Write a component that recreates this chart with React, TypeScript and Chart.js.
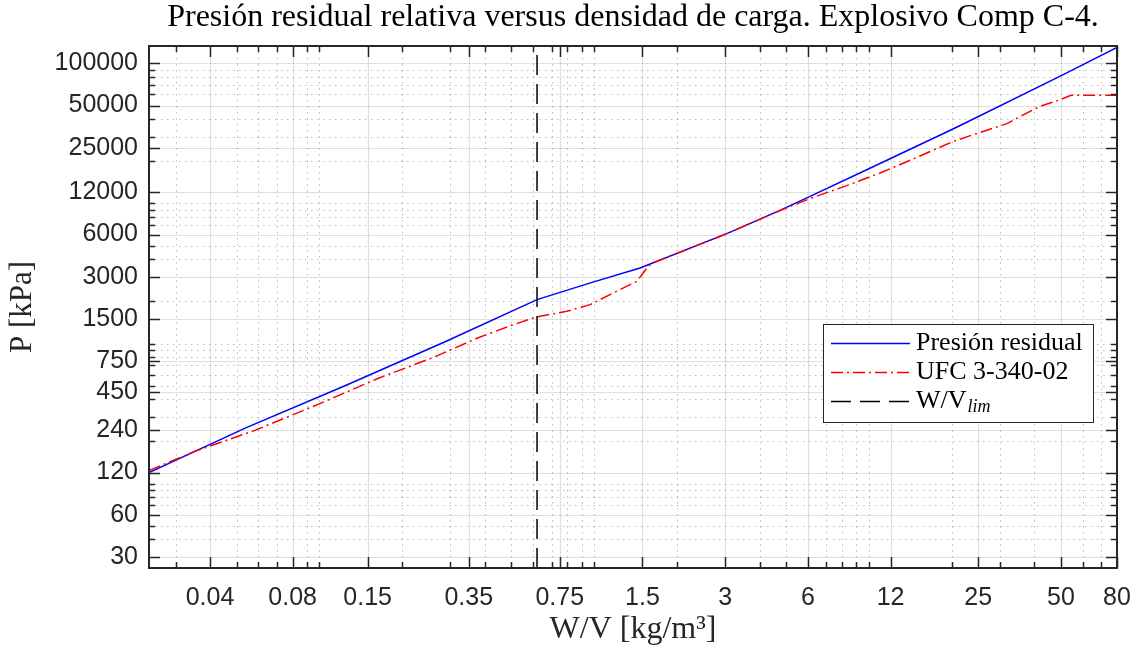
import React, { useEffect, useRef } from 'react';
import { Chart, registerables } from 'chart.js';

Chart.register(...registerables);

// ---- axis ranges & ticks ----
const xRange = [0.024, 80];
const yRange = [25, 133000];
const xTickValues = [0.04, 0.08, 0.15, 0.35, 0.75, 1.5, 3, 6, 12, 25, 50, 80];
const xTickLabels = ['0.04', '0.08', '0.15', '0.35', '0.75', '1.5', '3', '6', '12', '25', '50', '80'];
const yTickValues = [30, 60, 120, 240, 450, 750, 1500, 3000, 6000, 12000, 25000, 50000, 100000];
const yTickLabels = ['30', '60', '120', '240', '450', '750', '1500', '3000', '6000', '12000', '25000', '50000', '100000'];
const minorMultipliers = [1, 2, 3, 4, 5, 6, 7, 8, 9];
const xDecades = [0.01, 0.1, 1, 10];
const yDecades = [10, 100, 1000, 10000, 100000];

// ---- series ----
const presionX = [0.024, 0.054, 0.124, 0.287, 0.62, 0.97, 1.47, 3.04, 4.75, 6.11, 10, 18.2, 21.5, 51, 80];
const presionY = [120, 250, 500, 1030, 2060, 2710, 3460, 6090, 8930, 11240, 17700, 30800, 36000, 83000, 130000];

const ufcX = [0.024, 0.0352, 0.0583, 0.099, 0.164, 0.257, 0.379, 0.501, 0.618, 0.796, 0.967, 1.175, 1.43, 1.51, 1.57, 1.64, 3.04, 4.75, 6.28, 8.31, 11.0, 14.5, 20.3, 24.0, 31.8, 38.6, 42.0, 49.7, 54.4, 80];
const ufcY = [124, 170, 240, 368, 565, 789, 1100, 1350, 1549, 1698, 1895, 2296, 2780, 3190, 3555, 3770, 6090, 8900, 11055, 13400, 16510, 20770, 27750, 30980, 37120, 45420, 49320, 55060, 59110, 59110];

const wvLim = 0.62;

const seriesNames = ['Presión residual', 'UFC 3-340-02', 'W/V'];
const limSubscript = 'lim';
const chartTitle = 'Presión residual relativa versus densidad de carga. Explosivo Comp C-4.';
const xTitle = 'W/V [kg/m³]';
const yTitle = 'P [kPa]';

const AXIS = '#262626';
const BLUE = '#0000ff';
const RED = '#ff0000';
const BLACK = '#000000';
const RED_DASH = [12, 4, 2, 4];
const BLACK_DASH = [20, 9];

function isMajor(v: number, majors: number[]) {
  return majors.some((m) => Math.abs(Math.log10(v / m)) < 1e-6);
}

function minorValues(decades: number[], range: number[]) {
  const out: number[] = [];
  decades.forEach((d) =>
    minorMultipliers.forEach((m) => {
      const v = d * m;
      if (v > range[0] && v < range[1]) out.push(v);
    })
  );
  return out;
}

const matlabAxesPlugin = {
  id: 'matlabAxes',
  beforeDatasetsDraw(chart: any) {
    const { ctx, chartArea } = chart;
    const { left, right, top, bottom } = chartArea;
    const xs = chart.scales.x;
    const ys = chart.scales.y;
    ctx.save();
    ctx.lineWidth = 1;
    // minor grid (dotted)
    ctx.strokeStyle = 'rgba(38,38,38,0.3)';
    ctx.setLineDash([1.5, 4.5]);
    minorValues(xDecades, xRange).forEach((v) => {
      if (isMajor(v, xTickValues)) return;
      const px = Math.round(xs.getPixelForValue(v)) + 0.5;
      ctx.beginPath(); ctx.moveTo(px, top); ctx.lineTo(px, bottom); ctx.stroke();
    });
    minorValues(yDecades, yRange).forEach((v) => {
      if (isMajor(v, yTickValues)) return;
      const py = Math.round(ys.getPixelForValue(v)) + 0.5;
      ctx.beginPath(); ctx.moveTo(left, py); ctx.lineTo(right, py); ctx.stroke();
    });
    // major grid (solid)
    ctx.setLineDash([]);
    ctx.strokeStyle = 'rgba(38,38,38,0.15)';
    ctx.lineWidth = 1.2;
    xTickValues.forEach((v) => {
      const px = Math.round(xs.getPixelForValue(v)) + 0.5;
      ctx.beginPath(); ctx.moveTo(px, top); ctx.lineTo(px, bottom); ctx.stroke();
    });
    yTickValues.forEach((v) => {
      const py = Math.round(ys.getPixelForValue(v)) + 0.5;
      ctx.beginPath(); ctx.moveTo(left, py); ctx.lineTo(right, py); ctx.stroke();
    });
    ctx.restore();
  },
  afterDatasetsDraw(chart: any) {
    const { ctx, chartArea } = chart;
    const { left, right, top, bottom } = chartArea;
    const xs = chart.scales.x;
    const ys = chart.scales.y;
    ctx.save();
    ctx.strokeStyle = AXIS;
    ctx.setLineDash([]);
    ctx.lineWidth = 1.5;
    const majorLen = 11;
    const minorLen = 6;
    const xt = (v: number, len: number) => {
      const px = Math.round(xs.getPixelForValue(v)) + 0.5;
      ctx.beginPath();
      ctx.moveTo(px, bottom); ctx.lineTo(px, bottom - len);
      ctx.moveTo(px, top); ctx.lineTo(px, top + len);
      ctx.stroke();
    };
    const yt = (v: number, len: number) => {
      const py = Math.round(ys.getPixelForValue(v)) + 0.5;
      ctx.beginPath();
      ctx.moveTo(left, py); ctx.lineTo(left + len, py);
      ctx.moveTo(right, py); ctx.lineTo(right - len, py);
      ctx.stroke();
    };
    minorValues(xDecades, xRange).forEach((v) => { if (!isMajor(v, xTickValues)) xt(v, minorLen); });
    xTickValues.forEach((v) => xt(v, majorLen));
    minorValues(yDecades, yRange).forEach((v) => { if (!isMajor(v, yTickValues)) yt(v, minorLen); });
    yTickValues.forEach((v) => yt(v, majorLen));
    // frame
    ctx.lineWidth = 2;
    ctx.strokeRect(left, top, right - left, bottom - top);
    ctx.restore();
  },
  afterDraw(chart: any) {
    const { ctx, chartArea } = chart;
    const bx = chartArea.right - 294;
    const by = chartArea.top + 278;
    const bw = 270;
    const bh = 98;
    ctx.save();
    ctx.fillStyle = '#ffffff';
    ctx.fillRect(bx, by, bw, bh);
    ctx.strokeStyle = AXIS;
    ctx.lineWidth = 1;
    ctx.strokeRect(bx + 0.5, by + 0.5, bw, bh);
    const rows = [by + 19, by + 48, by + 77];
    const colors = [BLUE, RED, BLACK];
    const dashes = [[], RED_DASH, BLACK_DASH];
    const lx0 = bx + 8;
    const lx1 = bx + 87;
    const tx = bx + 93;
    rows.forEach((ry, i) => {
      ctx.beginPath();
      ctx.strokeStyle = colors[i];
      ctx.lineWidth = 1.5;
      ctx.setLineDash(dashes[i]);
      ctx.moveTo(lx0, ry + 0.5);
      ctx.lineTo(lx1, ry + 0.5);
      ctx.stroke();
      ctx.setLineDash([]);
      ctx.fillStyle = '#000000';
      ctx.font = '26px "Liberation Serif"';
      ctx.textBaseline = 'middle';
      ctx.textAlign = 'left';
      ctx.fillText(seriesNames[i], tx, ry);
      if (i === 2) {
        const w = ctx.measureText(seriesNames[i]).width;
        ctx.font = 'italic 18px "Liberation Serif"';
        ctx.fillText(limSubscript, tx + w + 1, ry + 6);
      }
    });
    ctx.restore();
  },
};

export default function App() {
  const canvasRef = useRef<HTMLCanvasElement | null>(null);

  useEffect(() => {
    document.body.style.margin = '0';
    const canvas = canvasRef.current;
    if (!canvas) return;
    const chart = new Chart(canvas, {
      type: 'line',
      data: {
        datasets: [
          {
            label: seriesNames[0],
            data: presionX.map((x, i) => ({ x, y: presionY[i] })),
            borderColor: BLUE,
            borderWidth: 1.5,
            pointRadius: 0,
            tension: 0,
            order: 2,
          },
          {
            label: seriesNames[1],
            data: ufcX.map((x, i) => ({ x, y: ufcY[i] })),
            borderColor: RED,
            borderWidth: 1.5,
            borderDash: RED_DASH,
            pointRadius: 0,
            tension: 0,
            order: 1,
          },
          {
            label: seriesNames[2] + limSubscript,
            data: [
              { x: wvLim, y: yRange[0] },
              { x: wvLim, y: yRange[1] },
            ],
            borderColor: BLACK,
            borderWidth: 1.5,
            borderDash: BLACK_DASH,
            pointRadius: 0,
            order: 0,
          },
        ],
      },
      options: {
        animation: false,
        responsive: false,
        devicePixelRatio: 1,
        layout: { padding: { left: 0, right: 24, top: 0, bottom: 0 } },
        plugins: {
          legend: { display: false },
          tooltip: { enabled: false },
          title: {
            display: true,
            text: chartTitle,
            fullSize: false,
            color: '#000000',
            font: { family: '"Liberation Serif"', size: 32, weight: 'normal', lineHeight: 1.1 },
            padding: { top: 0, bottom: 10.8 },
          },
        },
        scales: {
          x: {
            type: 'logarithmic',
            min: xRange[0],
            max: xRange[1],
            afterBuildTicks: (s: any) => {
              s.ticks = xTickValues.map((v) => ({ value: v }));
            },
            afterFit: (s: any) => {
              s.height = 83;
              s.paddingLeft = 0;
              s.paddingRight = 0;
            },
            ticks: {
              autoSkip: false,
              maxRotation: 0,
              minRotation: 0,
              padding: 15,
              color: AXIS,
              font: { family: '"Liberation Sans"', size: 25 },
              callback: (_v: any, i: number) => xTickLabels[i],
            },
            grid: { display: false, drawTicks: false },
            border: { display: false },
            title: {
              display: true,
              text: xTitle,
              color: AXIS,
              font: { family: '"Liberation Serif"', size: 32, lineHeight: 1.2 },
              padding: { top: 0, bottom: 2 },
            },
          },
          y: {
            type: 'logarithmic',
            min: yRange[0],
            max: yRange[1],
            afterBuildTicks: (s: any) => {
              s.ticks = yTickValues.map((v) => ({ value: v }));
            },
            afterFit: (s: any) => {
              s.width = 149;
              s.paddingTop = 0;
              s.paddingBottom = 0;
            },
            ticks: {
              autoSkip: false,
              padding: 11,
              color: AXIS,
              font: { family: '"Liberation Sans"', size: 25 },
              callback: (_v: any, i: number) => yTickLabels[i],
            },
            grid: { display: false, drawTicks: false },
            border: { display: false },
            title: {
              display: true,
              text: yTitle,
              color: AXIS,
              font: { family: '"Liberation Serif"', size: 31, lineHeight: 1.2 },
              padding: { top: 4, bottom: 0 },
            },
          },
        },
      },
      plugins: [matlabAxesPlugin],
    } as any);
    return () => chart.destroy();
  }, []);

  return (
    <div style={{ width: 1141, height: 651 }}>
      <canvas ref={canvasRef} width={1141} height={651} style={{ display: 'block' }} />
    </div>
  );
}
